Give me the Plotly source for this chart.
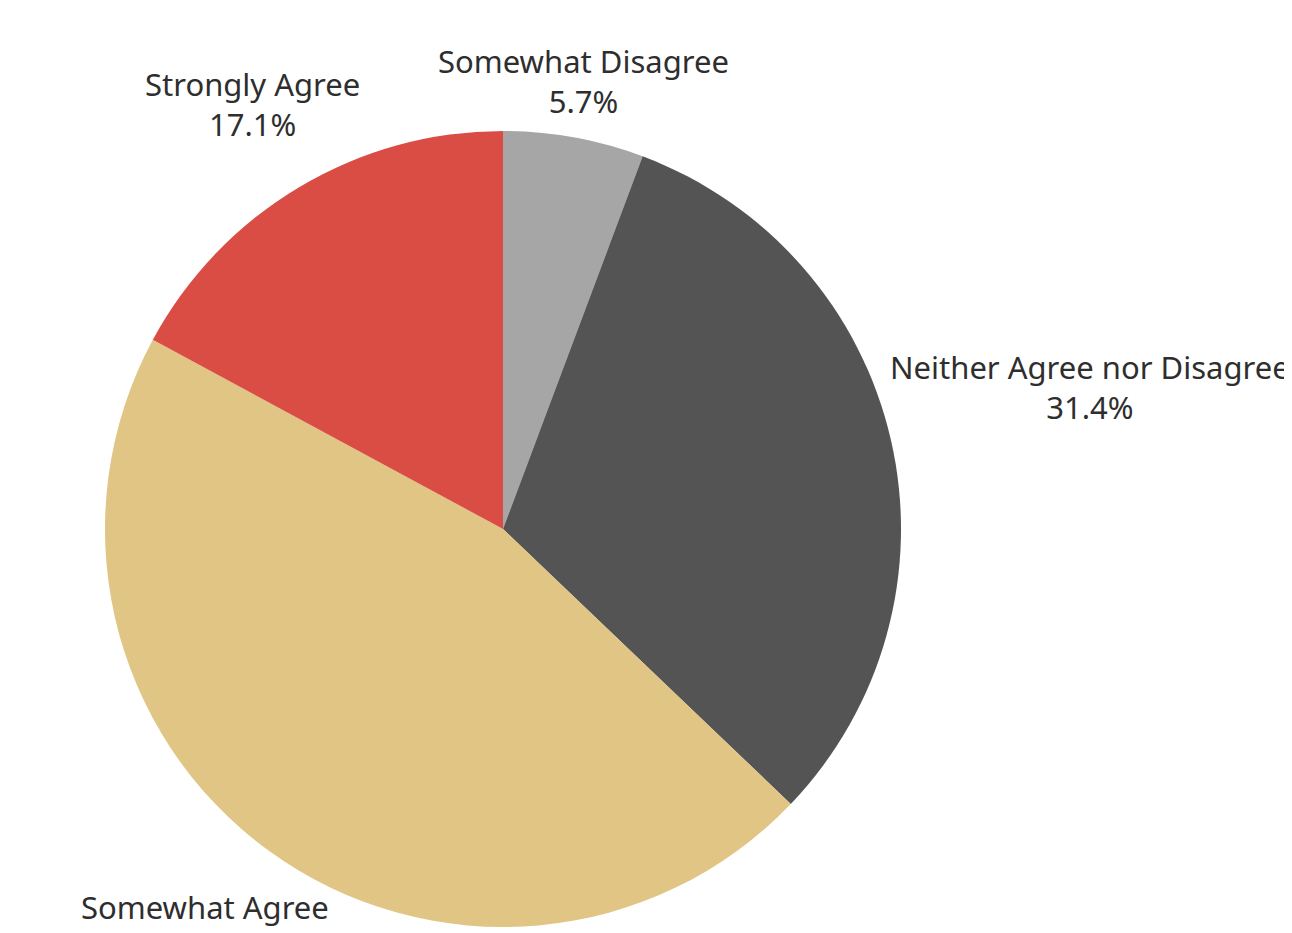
import math
import plotly.graph_objects as go

# ---- data ----
categories = ["Somewhat Disagree", "Neither Agree nor Disagree", "Somewhat Agree", "Strongly Agree"]
percentages = [5.7, 31.4, 45.7, 17.1]
colors = ["#a6a6a6", "#545454", "#e0c585", "#d94d44"]
# label layout (not data): distance from centre as a multiple of the radius,
# a small angular nudge (degrees), and whether the percentage line is visible
label_dist = [1.139, 1.517, 1.213, 1.235]
label_nudge = [0.0, -0.55, 2.1, 0.15]
pct_visible = [True, True, False, True]

W, H = 1292, 933
cx_px, cy_px, r_px = 503, 528, 398
# the page's body margin shifts the whole figure; compensate
page_dx, page_dy = 8, 7

dom_x = [(cx_px - page_dx - r_px) / W, (cx_px - page_dx + r_px) / W]
dom_y = [(H - cy_px + page_dy - r_px) / H, (H - cy_px + page_dy + r_px) / H]

fig = go.Figure(go.Pie(
    labels=categories,
    values=percentages,
    sort=False,
    direction="clockwise",
    rotation=0,
    marker=dict(colors=colors, line=dict(width=0)),
    textinfo="none",
    hoverinfo="label+percent",
    showlegend=False,
    domain=dict(x=dom_x, y=dom_y),
))

total = sum(percentages)
cum = 0.0
annotations = []
for cat, val, k, nd, vis in zip(categories, percentages, label_dist, label_nudge, pct_visible):
    mid = (cum + val / 2) / total * 2 * math.pi + math.radians(nd)
    cum += val
    d = k * r_px
    px = cx_px + d * math.sin(mid) - page_dx
    py = cy_px - d * math.cos(mid) - page_dy - 2
    text = f"{cat}<br>{val:.1f}%" if vis else cat
    annotations.append(dict(
        x=px / W, y=(H - py) / H, xref="paper", yref="paper",
        text=text,
        showarrow=False, xanchor="center", yanchor="middle",
        font=dict(family="Noto Sans", size=31, color="#2e2e2e"),
    ))

fig.update_layout(
    width=W, height=H,
    margin=dict(l=0, r=0, t=0, b=0),
    paper_bgcolor="white",
    plot_bgcolor="white",
    annotations=annotations,
)

fig.write_html("out.html")
